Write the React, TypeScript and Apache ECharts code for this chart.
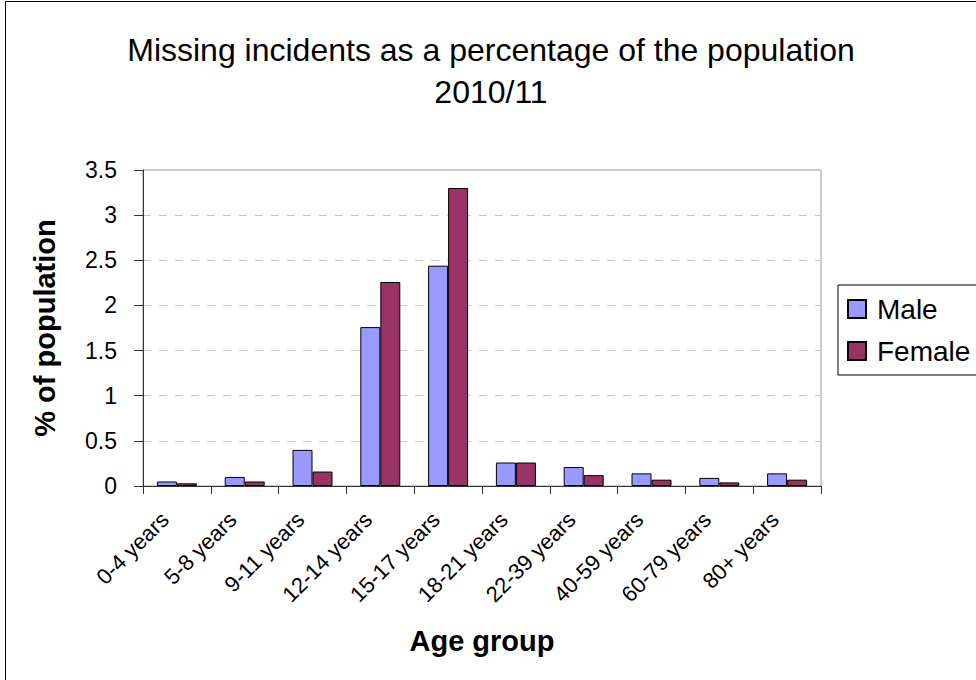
import React, { useEffect, useRef } from "react";
import * as echarts from "echarts";

const categories = [
  "0-4 years",
  "5-8 years",
  "9-11 years",
  "12-14 years",
  "15-17 years",
  "18-21 years",
  "22-39 years",
  "40-59 years",
  "60-79 years",
  "80+ years",
];
const maleValues = [0.05, 0.1, 0.4, 1.76, 2.44, 0.26, 0.21, 0.14, 0.09, 0.14];
const femaleValues = [0.03, 0.05, 0.16, 2.26, 3.3, 0.26, 0.12, 0.07, 0.04, 0.07];
const titleLines = ["Missing incidents as a percentage of the population", "2010/11"];

export default function App() {
  const ref = useRef<HTMLDivElement>(null);
  useEffect(() => {
    document.body.style.margin = "0";
    const chart = echarts.init(ref.current!, null, { renderer: "svg" });
    const font = "Liberation Sans, Arial, sans-serif";
    chart.setOption({
      animation: false,
      backgroundColor: "#ffffff",
      textStyle: { fontFamily: font, color: "#000" },
      title: {
        text: titleLines.join("\n"),
        left: 486,
        textAlign: "center",
        top: 24,
        textStyle: {
          fontFamily: font,
          fontSize: 32,
          fontWeight: "normal",
          color: "#000",
          lineHeight: 42,
        },
      },
      legend: {
        left: 838,
        top: 285,
        orient: "vertical",
        itemWidth: 18,
        itemHeight: 18,
        itemGap: 14,
        padding: [10, 20, 10, 9],
        borderColor: "#000",
        borderWidth: 1,
        textStyle: { fontFamily: font, fontSize: 28, color: "#000", padding: [0, 0, 0, 6] },
        data: [
          { name: "Male", icon: "rect" },
          { name: "Female", icon: "rect" },
        ],
      },
      grid: {
        left: 143,
        top: 170,
        width: 678,
        height: 316,
        show: true,
        borderColor: "#999",
        borderWidth: 1,
        backgroundColor: "transparent",
      },
      xAxis: {
        type: "category",
        data: categories,
        name: "Age group",
        nameLocation: "middle",
        nameGap: 140,
        nameTextStyle: { fontFamily: font, fontSize: 29, fontWeight: "bold", color: "#000" },
        axisLine: { lineStyle: { color: "#333", width: 1 } },
        axisTick: { show: true, length: 8, lineStyle: { color: "#333" } },
        axisLabel: {
          rotate: 45,
          margin: 18,
          padding: [0, 17, 0, 0],
          fontFamily: font,
          fontSize: 22,
          color: "#000",
          interval: 0,
        },
        splitLine: { show: false },
      },
      yAxis: {
        type: "value",
        min: 0,
        max: 3.5,
        interval: 0.5,
        name: "% of population",
        nameLocation: "middle",
        nameRotate: 90,
        nameGap: 84,
        nameTextStyle: { fontFamily: font, fontSize: 29, fontWeight: "bold", color: "#000" },
        axisLine: { show: true, lineStyle: { color: "#333", width: 1 } },
        axisTick: { show: true, length: 9, lineStyle: { color: "#333" } },
        axisLabel: { margin: 26, fontFamily: font, fontSize: 23, color: "#000" },
        splitLine: { show: true, lineStyle: { color: "#c8c8c8", type: [8, 8], width: 1 } },
      },
      series: [
        {
          name: "Male",
          type: "bar",
          data: maleValues,
          barWidth: 20,
          barGap: "0%",
          itemStyle: { color: "#9999FF", borderColor: "#000", borderWidth: 1 },
        },
        {
          name: "Female",
          type: "bar",
          data: femaleValues,
          barWidth: 20,
          barGap: "0%",
          itemStyle: { color: "#993366", borderColor: "#000", borderWidth: 1 },
        },
      ],
      graphic: [
        {
          type: "rect",
          shape: { x: 5.5, y: 1.5, width: 1000, height: 700 },
          style: { fill: "none", stroke: "#000", lineWidth: 1 },
          silent: true,
        },
      ],
    });
    return () => chart.dispose();
  }, []);
  return <div ref={ref} style={{ width: 976, height: 680 }} />;
}
